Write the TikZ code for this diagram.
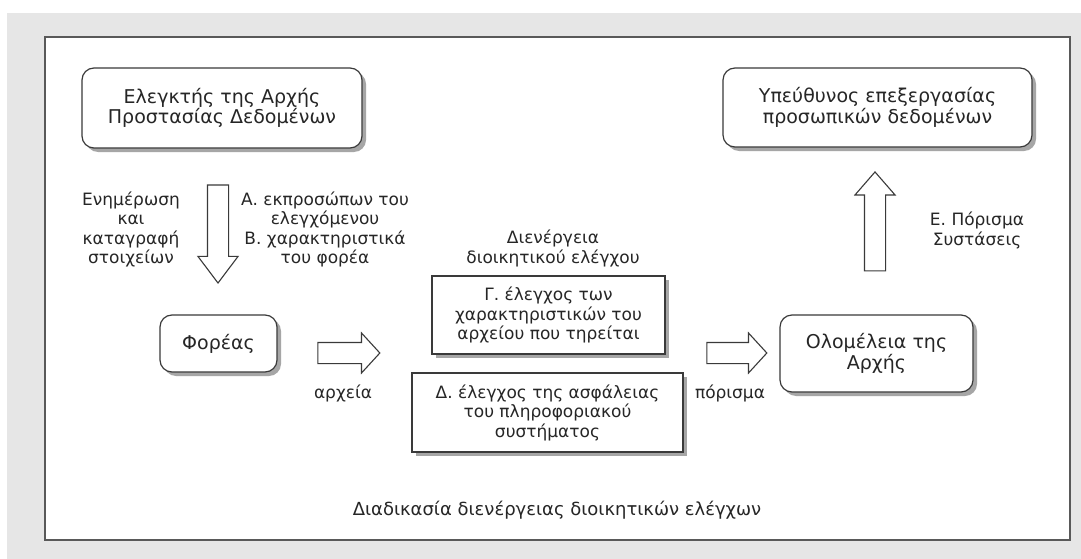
\documentclass[tikz,border=0pt]{standalone}
\usepackage{fontspec}
\setmainfont{DejaVu Sans}
\usetikzlibrary{shapes.arrows,shadows}

\definecolor{ink}{HTML}{262626}
\definecolor{edge}{HTML}{3A3A3A}
\definecolor{backdrop}{HTML}{E6E6E6}

\begin{document}
\begin{tikzpicture}[x=1pt,y=-1pt,
  font=\fontsize{17}{19.5}\selectfont,
  rbox/.style={draw=edge, line width=1.2pt, rounded corners=12pt, fill=white,
    align=center, inner sep=0pt, text=ink, font=\fontsize{19}{20.5}\selectfont,
    drop shadow={shadow xshift=4pt, shadow yshift=-4pt, fill=black!35, opacity=1}},
  sbox/.style={rbox, rounded corners=0pt, font=\fontsize{17}{19.5}\selectfont},
  blockarrow/.style={single arrow, draw=edge, line width=1.1pt, fill=white,
    inner xsep=0pt, inner ysep=10pt, single arrow head extend=9.5pt, minimum width=0pt},
  lbl/.style={align=center, text=ink, inner sep=0pt}
]
\useasboundingbox (0,0) rectangle (1081,559);
% page backdrop and framed panel
\fill[white] (0,0) rectangle (1081,559);
\fill[backdrop] (7,13) rectangle (1081,559);
\draw[black!65, line width=2pt, fill=white] (45,37) rectangle (1070,540);

% boxes
\node[rbox, minimum width=280pt, minimum height=80pt] (ctrl) at (222,108)
  {Ελεγκτής της Αρχής\\Προστασίας Δεδομένων};
\node[rbox, minimum width=309pt, minimum height=79pt] (resp) at (877.5,107.5)
  {Υπεύθυνος επεξεργασίας\\προσωπικών δεδομένων};
\node[rbox, minimum width=117pt, minimum height=57pt] (foreas) at (218.5,343.5)
  {Φορέας};
\node[sbox, minimum width=233pt, minimum height=78pt] (gamma) at (548.5,315)
  {Γ. έλεγχος των\\χαρακτηριστικών του\\αρχείου που τηρείται};
\node[sbox, minimum width=271pt, minimum height=79pt] (delta) at (547.5,412.5)
  {Δ. έλεγχος της ασφάλειας\\του πληροφοριακού\\συστήματος};
\node[rbox, minimum width=193pt, minimum height=77pt] (olom) at (876.5,353.5)
  {Ολομέλεια της\\Αρχής};

% block arrows
\node[blockarrow, rotate=-90, minimum height=98pt,
  single arrow tip angle=74] (down) at (218,227) {};
\node[blockarrow, minimum height=62pt, single arrow tip angle=95] (toaudit) at (344,353) {};
\node[blockarrow, minimum height=60pt, single arrow tip angle=95] (toboard) at (732,353) {};
\node[blockarrow, rotate=90, minimum height=99pt,
  single arrow tip angle=82] (up) at (875,227.5) {};

% labels
\node[lbl] (inform) at (131,229.5) {Ενημέρωση\\και\\καταγραφή\\στοιχείων};
\node[lbl] (reps) at (325,229.5) {Α. εκπροσώπων του\\ελεγχόμενου\\Β. χαρακτηριστικά\\του φορέα};
\node[lbl] (files) at (343,393) {αρχεία};
\node[lbl] (conduct) at (553,248.5) {Διενέργεια\\διοικητικού ελέγχου};
\node[lbl] (finding) at (730,393) {πόρισμα};
\node[lbl] (recs) at (977,230.5) {Ε. Πόρισμα\\Συστάσεις};
\node[lbl, font=\fontsize{18}{19}\selectfont] (caption) at (557,510)
  {Διαδικασία διενέργειας διοικητικών ελέγχων};
\end{tikzpicture}
\end{document}
